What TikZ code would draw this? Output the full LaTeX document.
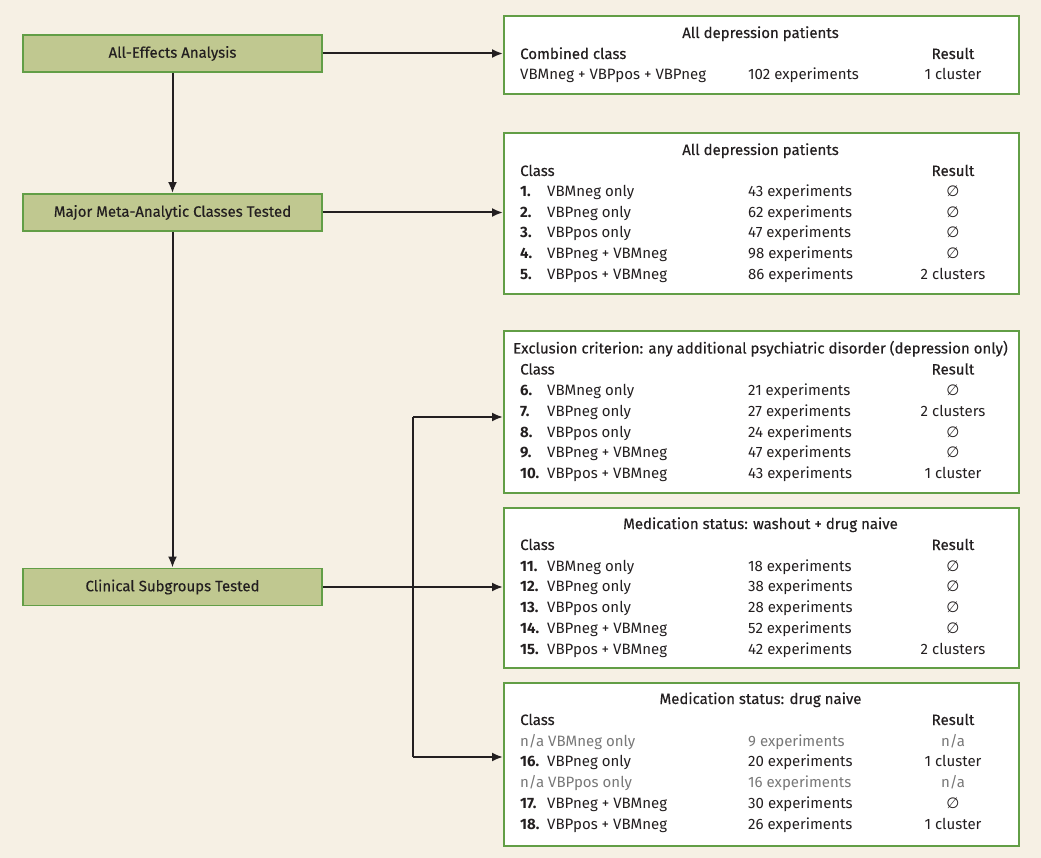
\documentclass[tikz,border=0pt]{standalone}
\usepackage{fontspec}
\setmainfont{Fira Sans}
\newfontfamily\medf[FakeBold=0.3]{Fira Sans}
\newfontfamily\symf{DejaVu Sans}
\usetikzlibrary{arrows.meta}
\definecolor{bg}{RGB}{246,240,228}
\definecolor{lfill}{RGB}{192,200,144}
\definecolor{gborder}{RGB}{98,158,70}
\definecolor{txt}{RGB}{35,31,32}
\definecolor{gtxt}{RGB}{120,120,120}
\newcommand\emp{{\symf ∅}}
\newcommand\fs{\fontsize{15}{18}\selectfont}
\tikzset{
  tx/.style={inner sep=0pt, text=txt, font=\fs},
  gx/.style={tx, text=gtxt},
  hd/.style={tx, font=\fs\medf},
  lbox/.style={draw=gborder, fill=lfill, line width=1.8pt, minimum width=299pt, minimum height=37pt, inner sep=0pt, text=txt, font=\fs\medf},
  rbox/.style={draw=gborder, fill=white, line width=1.8pt, inner sep=0pt, anchor=north west},
  conn/.style={line width=2pt, draw=txt, -{Latex[length=11pt,width=9pt]}},
  plain/.style={line width=2pt, draw=txt},
}
% id, baseline, number, name, experiments, result
\newcommand\rw[6]{%
  \node[tx, anchor=base west, font=\fs\bfseries] (n#1) at (520,#2) {#3};
  \node[tx, anchor=base west] (c#1) at (547,#2) {#4};
  \node[tx, anchor=base west] (e#1) at (748,#2) {#5};
  \node[tx, anchor=base] (r#1) at (953,#2) {#6};
}
\newcommand\grw[5]{%
  \node[gx, anchor=base west] (c#1) at (520,#2) {#3};
  \node[gx, anchor=base west] (e#1) at (748,#2) {#4};
  \node[gx, anchor=base] (r#1) at (953,#2) {#5};
}
% id, title baseline, title
\newcommand\hdr[3]{%
  \node[hd, anchor=base] (t#1) at (760.5,#2) {#3};
  \node[hd, anchor=base west] (k#1) at (520,#2+21) {Class};
  \node[hd, anchor=base] (s#1) at (953,#2+21) {Result};
}
\begin{document}
\begin{tikzpicture}[x=1pt,y=-1pt]
\fill[bg] (0,0) rectangle (1041,858);
\useasboundingbox (0,0) rectangle (1041,858);

% left boxes
\node[lbox] (L1) at (172.5,53.5) {All-Effects Analysis};
\node[lbox] (L2) at (172.5,212.5) {Major Meta-Analytic Classes Tested};
\node[lbox] (L3) at (172.5,587) {Clinical Subgroups Tested};

% right boxes
\node[rbox, minimum width=515pt, minimum height=78pt] (A) at (503,15) {};
\node[rbox, minimum width=515pt, minimum height=161pt] (B) at (503,132) {};
\node[rbox, minimum width=515pt, minimum height=162pt] (C) at (503,330) {};
\node[rbox, minimum width=515pt, minimum height=160pt] (D) at (503,507) {};
\node[rbox, minimum width=515pt, minimum height=163pt] (E) at (503,682) {};

% connectors
\draw[conn] (L1) -- (L2);
\draw[conn] (L2) -- (L3);
\draw[conn] (L1.east) -- (L1.east -| A.west);
\draw[conn] (L2.east) -- (L2.east -| B.west);
\draw[conn] (L3.east) -- (L3.east -| D.west);
\coordinate (br) at (413,587);
\coordinate (cC) at (503,417);
\coordinate (cE) at (503,757);
\draw[plain] (br) -- (413,417);
\draw[plain] (br) -- (413,757);
\draw[conn] (413,417) -- (cC);
\draw[conn] (413,757) -- (cE);

% Box A
\node[hd, anchor=base] (tA) at (760.5,38) {All depression patients};
\node[hd, anchor=base west] (kA) at (520,59) {Combined class};
\node[hd, anchor=base] (sA) at (953,59) {Result};
\node[tx, anchor=base west] (cA) at (520,80) {VBMneg + VBPpos + VBPneg};
\node[tx, anchor=base west] (eA) at (748,80) {102 experiments};
\node[tx, anchor=base] (rA) at (953,80) {1 cluster};

% Box B
\hdr{B}{155}{All depression patients}
\rw{b1}{196.5}{1.}{VBMneg only}{43 experiments}{\emp}
\rw{b2}{217.3}{2.}{VBPneg only}{62 experiments}{\emp}
\rw{b3}{238}{3.}{VBPpos only}{47 experiments}{\emp}
\rw{b4}{258.8}{4.}{VBPneg + VBMneg}{98 experiments}{\emp}
\rw{b5}{279.5}{5.}{VBPpos + VBMneg}{86 experiments}{2 clusters}

% Box C
\hdr{C}{353.5}{Exclusion criterion: any additional psychiatric disorder (depression only)}
\rw{c1}{395.5}{6.}{VBMneg only}{21 experiments}{\emp}
\rw{c2}{416.3}{7.}{VBPneg only}{27 experiments}{2 clusters}
\rw{c3}{437}{8.}{VBPpos only}{24 experiments}{\emp}
\rw{c4}{457.8}{9.}{VBPneg + VBMneg}{47 experiments}{\emp}
\rw{c5}{478.5}{10.}{VBPpos + VBMneg}{43 experiments}{1 cluster}

% Box D
\hdr{D}{529}{Medication status: washout + drug naive}
\rw{d1}{571}{11.}{VBMneg only}{18 experiments}{\emp}
\rw{d2}{591.8}{12.}{VBPneg only}{38 experiments}{\emp}
\rw{d3}{612.5}{13.}{VBPpos only}{28 experiments}{\emp}
\rw{d4}{633.3}{14.}{VBPneg + VBMneg}{52 experiments}{\emp}
\rw{d5}{654}{15.}{VBPpos + VBMneg}{42 experiments}{2 clusters}

% Box E
\hdr{E}{704}{Medication status: drug naive}
\grw{e1}{746}{n/a VBMneg only}{9 experiments}{n/a}
\rw{e2}{766.8}{16.}{VBPneg only}{20 experiments}{1 cluster}
\grw{e3}{787.5}{n/a VBPpos only}{16 experiments}{n/a}
\rw{e4}{808.3}{17.}{VBPneg + VBMneg}{30 experiments}{\emp}
\rw{e5}{829}{18.}{VBPpos + VBMneg}{26 experiments}{1 cluster}
\end{tikzpicture}
\end{document}
